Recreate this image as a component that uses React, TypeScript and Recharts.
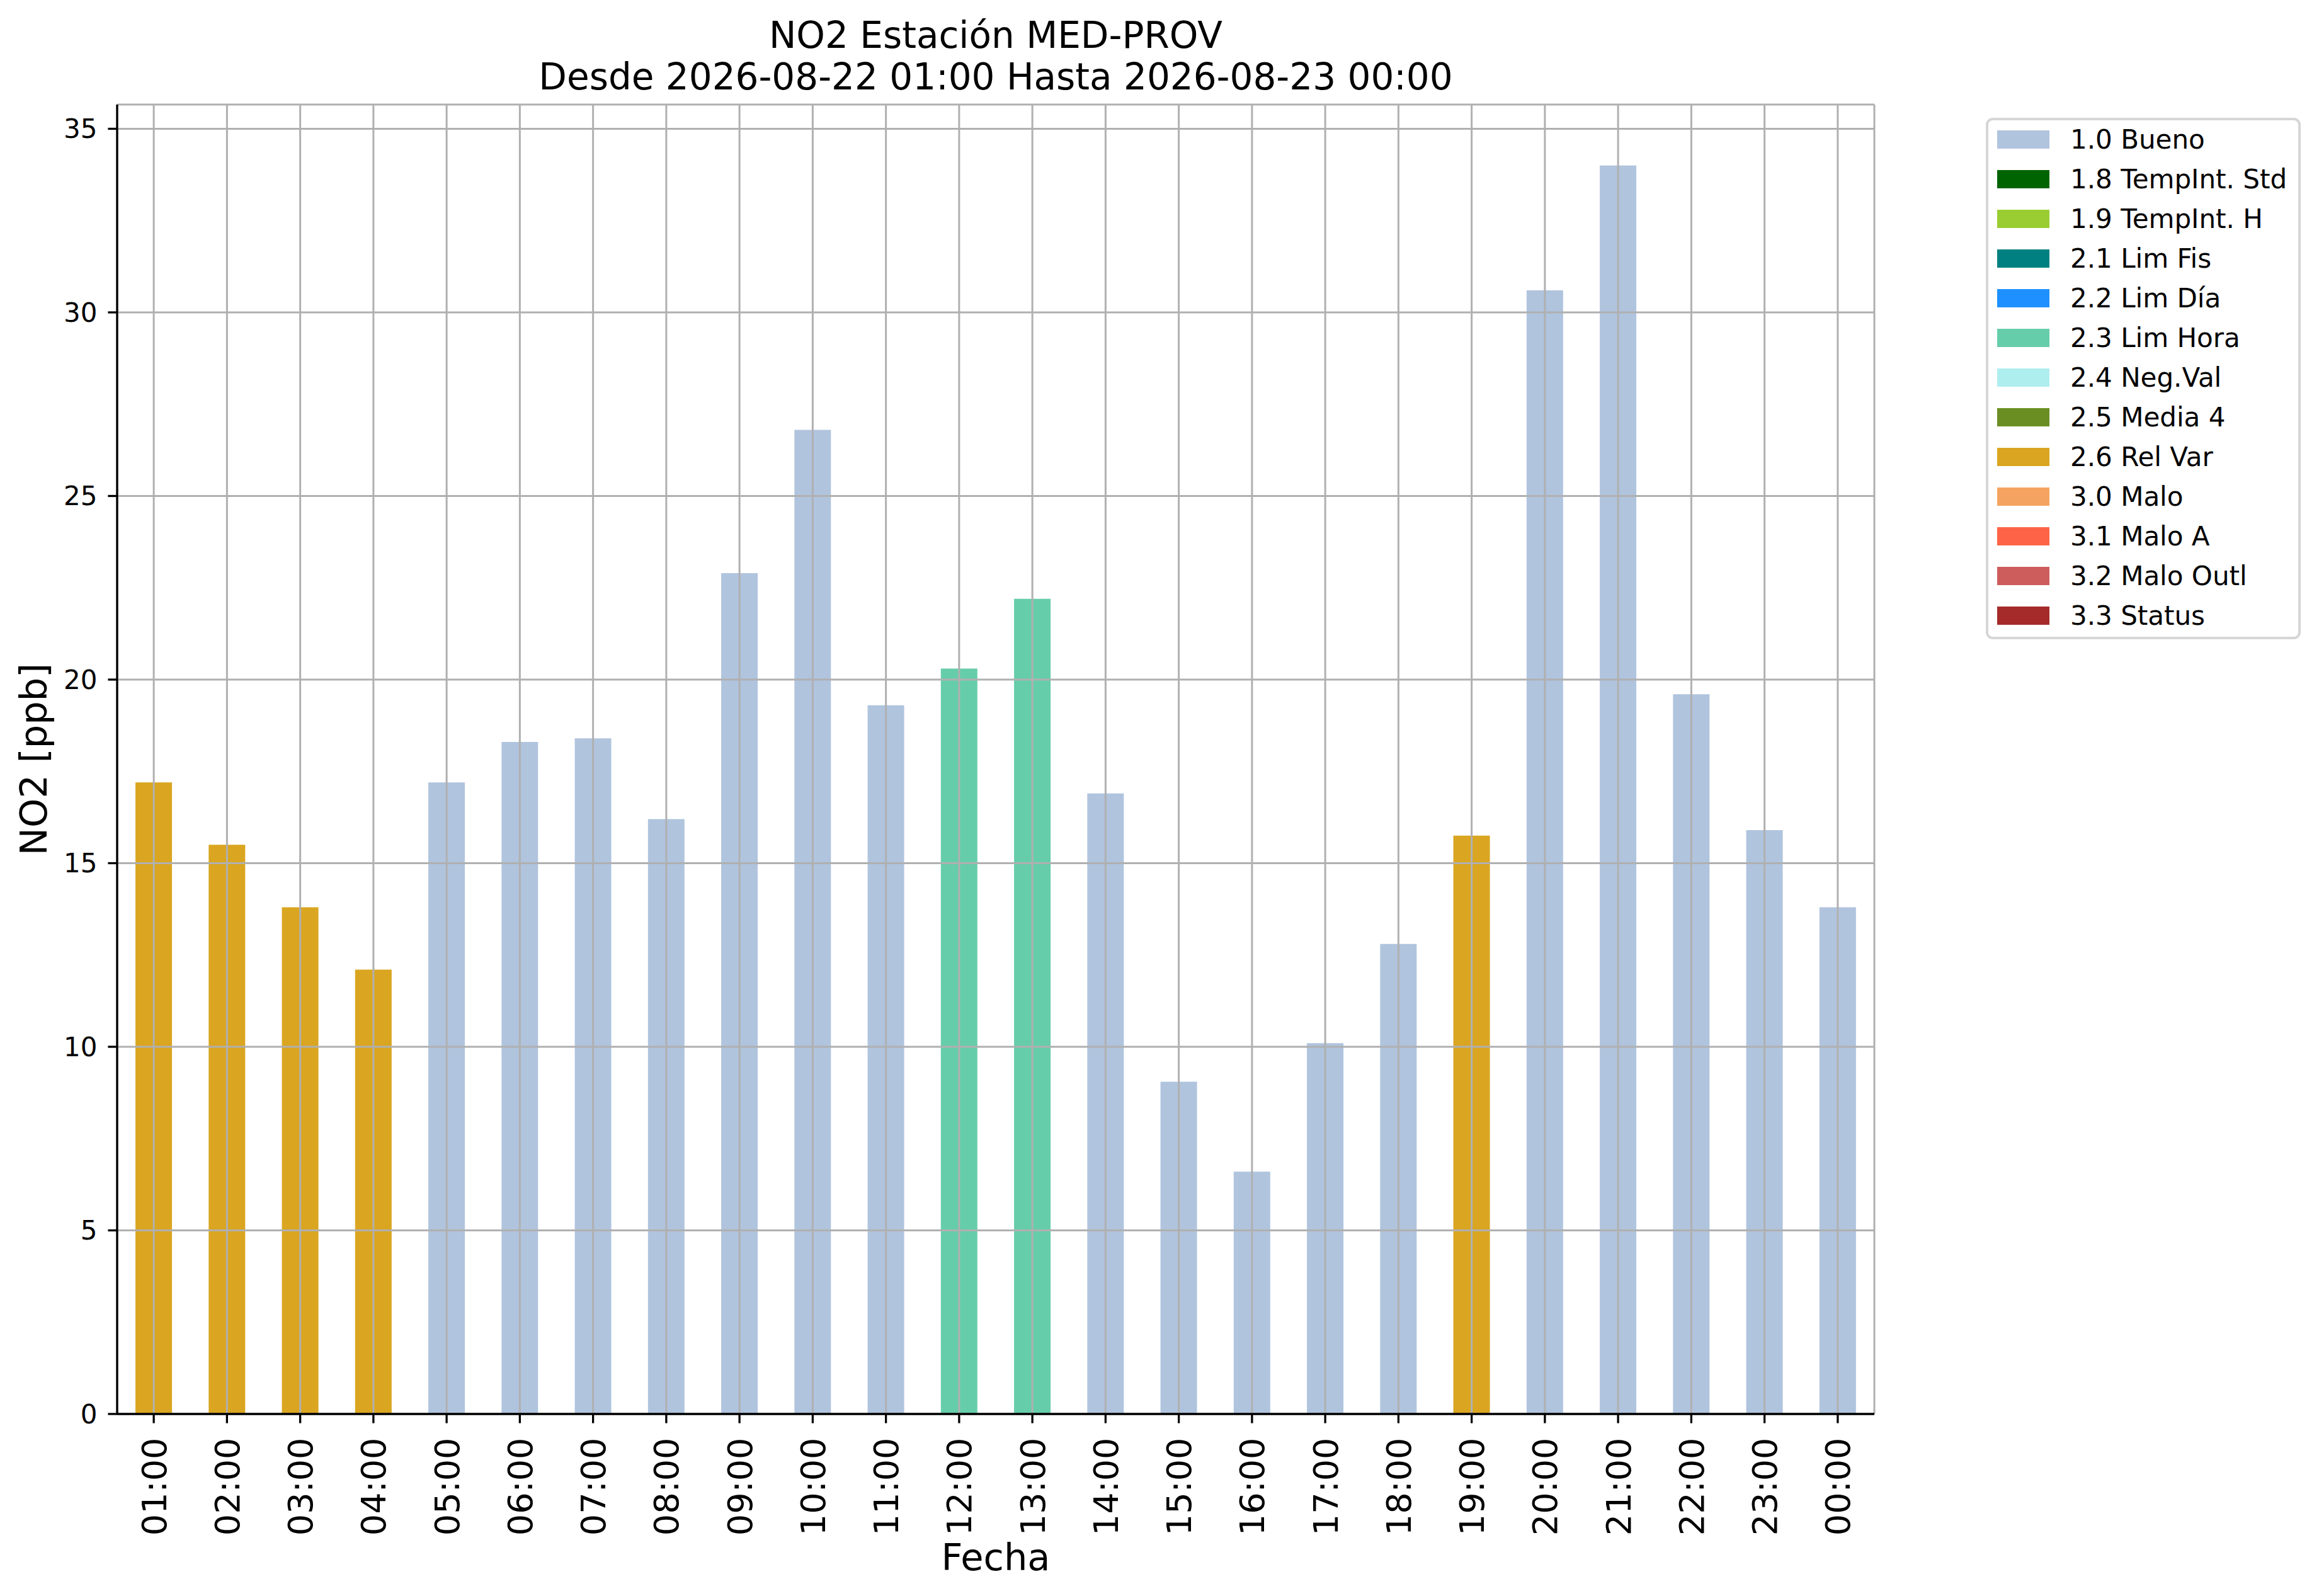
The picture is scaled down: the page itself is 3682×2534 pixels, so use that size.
import React from 'react'
import { BarChart, Bar, XAxis, YAxis, CartesianGrid, Legend, Label } from 'recharts'

const FONT = '"DejaVu Sans", Verdana, sans-serif'

// hourly NO2 readings and the validation flag of each hour
const HOURS = [
  '01:00', '02:00', '03:00', '04:00', '05:00', '06:00', '07:00', '08:00',
  '09:00', '10:00', '11:00', '12:00', '13:00', '14:00', '15:00', '16:00',
  '17:00', '18:00', '19:00', '20:00', '21:00', '22:00', '23:00', '00:00',
]
const NO2 = [
  17.2, 15.5, 13.8, 12.1, 17.2, 18.3, 18.4, 16.2,
  22.9, 26.8, 19.3, 20.3, 22.2, 16.9, 9.05, 6.6,
  10.1, 12.8, 15.75, 30.6, 34.0, 19.6, 15.9, 13.8,
]
const HOUR_FLAGS = [
  '2.6', '2.6', '2.6', '2.6', '1.0', '1.0', '1.0', '1.0',
  '1.0', '1.0', '1.0', '2.3', '2.3', '1.0', '1.0', '1.0',
  '1.0', '1.0', '2.6', '1.0', '1.0', '1.0', '1.0', '1.0',
]

const FLAG_CODES = ['1.0', '1.8', '1.9', '2.1', '2.2', '2.3', '2.4', '2.5', '2.6', '3.0', '3.1', '3.2', '3.3']
const FLAG_NAMES = [
  '1.0 Bueno', '1.8 TempInt. Std', '1.9 TempInt. H', '2.1 Lim Fis', '2.2 Lim Día',
  '2.3 Lim Hora', '2.4 Neg.Val', '2.5 Media 4', '2.6 Rel Var', '3.0 Malo',
  '3.1 Malo A', '3.2 Malo Outl', '3.3 Status',
]
const FLAG_COLORS = [
  '#b0c4de', '#006400', '#9acd32', '#008080', '#1e90ff',
  '#66cdaa', '#afeeee', '#6b8e23', '#daa520', '#f4a460',
  '#ff6347', '#cd5c5c', '#a52a2a',
]

const Y_TICKS = [0, 5, 10, 15, 20, 25, 30, 35]
const Y_MAX = 35.66

const rows = HOURS.map((hour, i) => {
  const row: Record<string, string | number> = { hour }
  FLAG_CODES.forEach((code, k) => {
    row[`q${k}`] = HOUR_FLAGS[i] === code ? NO2[i] : 0
  })
  return row
})

const axisStroke = { stroke: '#000000', strokeWidth: 3.3 }

function HourTick({ x, y, payload }: any) {
  return (
    <text
      x={x}
      y={y}
      dy="0.36em"
      transform={`rotate(-90, ${x}, ${y})`}
      textAnchor="end"
      fontSize={54}
      fontFamily={FONT}
      fill="#000000"
    >
      {payload.value}
    </text>
  )
}

function LegendBox({ payload }: any) {
  const items = payload && payload.length
    ? payload
    : FLAG_NAMES.map((n, i) => ({ value: n, color: FLAG_COLORS[i] }))
  return (
    <svg width={500} height={828} style={{ display: 'block' }}>
      <rect x={2} y={2} width={496} height={824} rx={9} fill="#ffffff" fillOpacity={0.8}
        stroke="#d6d6d6" strokeWidth={4} />
      {items.map((it: any, i: number) => (
        <g key={it.value}>
          <rect x={18} y={20 + 63 * i} width={83} height={29} fill={it.color} />
          <text x={134} y={49 + 63 * i} fontSize={42} fontFamily={FONT} fill="#000000">
            {it.value}
          </text>
        </g>
      ))}
    </svg>
  )
}

export default function App() {
  return (
    <div style={{ position: 'absolute', left: 0, top: 0, width: 3682, height: 2534, background: '#ffffff' }}>
      <BarChart
        width={3682}
        height={2534}
        data={rows}
        margin={{ top: 166, right: 706, bottom: 0, left: 0 }}
        barCategoryGap="25%"
      >
        {FLAG_CODES.map((code, k) => (
          <Bar
            key={code}
            dataKey={`q${k}`}
            name={FLAG_NAMES[k]}
            stackId="flags"
            fill={FLAG_COLORS[k]}
            isAnimationActive={false}
          />
        ))}
        <CartesianGrid stroke="#b0b0b0" strokeWidth={3} zIndex={400} />
        <XAxis
          dataKey="hour"
          interval={0}
          height={289}
          tickSize={14.6}
          tickMargin={23}
          tick={<HourTick />}
          tickLine={axisStroke}
          axisLine={axisStroke}
        >
          <Label
            content={({ viewBox }: any) => (
              <text x={viewBox.x + viewBox.width / 2} y={viewBox.y + 248} textAnchor="middle"
                fontSize={59} fontFamily={FONT} fill="#000000">
                Fecha
              </text>
            )}
          />
        </XAxis>
        <XAxis xAxisId="top" dataKey="hour" orientation="top" height={0} tick={false}
          tickLine={false} axisLine={axisStroke} />
        <YAxis
          type="number"
          domain={[0, Y_MAX]}
          ticks={Y_TICKS}
          width={186}
          tickSize={14.6}
          tickMargin={17}
          tick={{ fill: '#000000', fontSize: 42, fontFamily: FONT }}
          tickLine={axisStroke}
          axisLine={axisStroke}
        >
          <Label
            content={({ viewBox }: any) => {
              const cx = viewBox.x + 74
              const cy = viewBox.y + viewBox.height / 2
              return (
                <text x={cx} y={cy} transform={`rotate(-90, ${cx}, ${cy})`} textAnchor="middle"
                  fontSize={59} fontFamily={FONT} fill="#000000">
                  NO2 [ppb]
                </text>
              )
            }}
          />
        </YAxis>
        <YAxis yAxisId="right" orientation="right" type="number" domain={[0, Y_MAX]} width={0}
          tick={false} tickLine={false} axisLine={axisStroke} />
        <Legend
          layout="vertical"
          align="center"
          verticalAlign="middle"
          wrapperStyle={{ left: 3153, top: 187, width: 500, height: 828 }}
          content={<LegendBox />}
        />
      </BarChart>
      <svg width={3682} height={200} style={{ position: 'absolute', left: 0, top: 0, pointerEvents: 'none' }}>
        <text x={1581} y={76} textAnchor="middle" fontSize={58} fontFamily={FONT} fill="#000000">
          NO2 Estación MED-PROV
        </text>
        <text x={1581} y={142} textAnchor="middle" fontSize={58} fontFamily={FONT} fill="#000000">
          Desde 2026-08-22 01:00 Hasta 2026-08-23 00:00
        </text>
      </svg>
    </div>
  )
}
